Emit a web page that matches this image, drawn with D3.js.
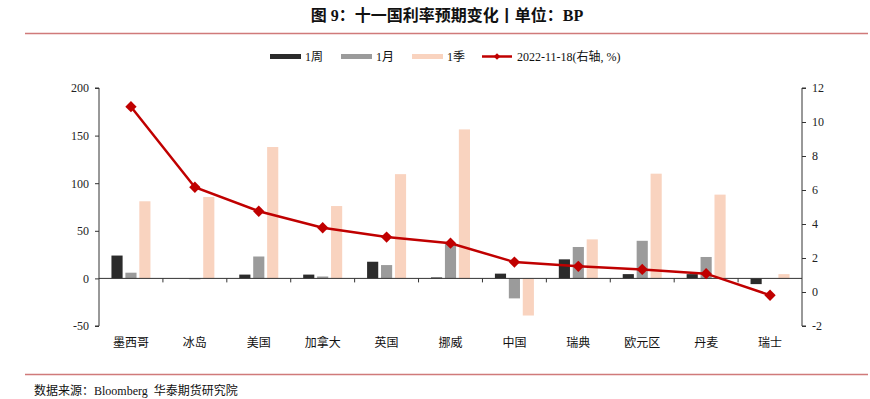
<!DOCTYPE html>
<html><head><meta charset="utf-8">
<script src="https://cdn.jsdelivr.net/npm/d3@7"></script>
<style>
body{margin:0;background:#fff;}
svg text{font-family:"Liberation Serif","Noto Sans CJK SC",serif;}
</style></head>
<body><svg id="c" width="870" height="399"></svg>
<script>
const categories = ["墨西哥","冰岛","美国","加拿大","英国","挪威","中国","瑞典","欧元区","丹麦","瑞士"];
const seriesNames = ["1周","1月","1季"];
const week = [24, 0, 4, 4, 17.5, 1, 5, 20, 4.5, 4.5, -6];
const month = [6, -1, 23, 2, 14, 36.5, -21, 33, 39.5, 22.5, 0];
const quarter = [81, 85.5, 138, 76, 109.5, 156.5, -39, 41, 110, 88, 4.5];
const rate = [10.9, 6.16, 4.75, 3.78, 3.23, 2.87, 1.76, 1.51, 1.33, 1.08, -0.19];
const lineName = "2022-11-18(右轴, %)";
const leftTicks = [-50, 0, 50, 100, 150, 200];
const rightTicks = [-2, 0, 2, 4, 6, 8, 10, 12];
const colors = ["#2b2b2b", "#9b9b9b", "#f9d3bf"];
const lineColor = "#c00000";

const svg = d3.select("#c");
const L = 99, R = 802, T = 88, B = 326;
const x = d3.scaleBand().domain(categories).range([L, R]);
const xs = d3.scaleBand().domain(seriesNames).range([-19.5, 19.5]).paddingInner(0.2);
const yL = d3.scaleLinear().domain([-50, 200]).range([B, T]);
const yR = d3.scaleLinear().domain([-2, 12]).range([B, T]);

// title
svg.append("text").attr("x", 447).attr("y", 21).attr("text-anchor", "middle")
  .attr("font-size", 16).attr("font-weight", "bold").attr("fill", "#111")
  .style("white-space", "pre")
  .text("图 9：十一国利率预期变化丨单位：BP");
svg.append("line").attr("x1", 25).attr("x2", 868).attr("y1", 33.5).attr("y2", 33.5)
  .attr("stroke", "#d07a7a").attr("stroke-width", 1.6);

// bars
const seriesData = [week, month, quarter];
seriesData.forEach((vals, si) => {
  svg.append("g").selectAll("rect").data(vals).join("rect")
    .attr("x", (d, i) => x(categories[i]) + x.bandwidth() / 2 + xs(seriesNames[si]))
    .attr("width", xs.bandwidth())
    .attr("y", d => yL(Math.max(0, d)))
    .attr("height", d => Math.abs(yL(d) - yL(0)))
    .attr("fill", colors[si]);
});

// zero axis
const zeroAxis = svg.append("g").attr("transform", `translate(0,${yL(0)})`);
zeroAxis.append("line").attr("x1", L).attr("x2", R).attr("stroke", "#333").attr("stroke-width", 1);
zeroAxis.selectAll("line.t").data(categories.slice(1)).join("line").attr("class", "t")
  .attr("x1", d => x(d)).attr("x2", d => x(d)).attr("y1", 0).attr("y2", 4)
  .attr("stroke", "#333");

// category labels
svg.append("g").selectAll("text").data(categories).join("text")
  .attr("x", d => x(d) + x.bandwidth() / 2).attr("y", 347)
  .attr("text-anchor", "middle").attr("font-size", 12).attr("fill", "#111")
  .text(d => d);

// left axis
const gl = svg.append("g").attr("transform", `translate(${L},0)`)
  .call(d3.axisLeft(yL).tickValues(leftTicks).tickFormat(d => String(d)).tickSize(4).tickPadding(6));
gl.select(".domain").attr("stroke", "#333").attr("d", `M-4,${T}H0V${B}H-4`);
gl.selectAll("line").attr("stroke", "#333");
gl.selectAll("text").attr("font-size", 12).attr("fill", "#222")
  .style("font-family", "'Liberation Serif',serif");

// right axis
const gr = svg.append("g").attr("transform", `translate(${R},0)`)
  .call(d3.axisRight(yR).tickValues(rightTicks).tickFormat(d => String(d)).tickSize(4).tickPadding(6));
gr.select(".domain").attr("stroke", "#333").attr("d", `M4,${T}H0V${B}H4`);
gr.selectAll("line").attr("stroke", "#333");
gr.selectAll("text").attr("font-size", 12).attr("fill", "#222")
  .style("font-family", "'Liberation Serif',serif");

// line
const line = d3.line().x((d, i) => x(categories[i]) + x.bandwidth() / 2).y(d => yR(d));
svg.append("path").datum(rate).attr("d", line).attr("fill", "none")
  .attr("stroke", lineColor).attr("stroke-width", 2.5);
const sq = d3.symbol().type(d3.symbolSquare).size(64);
svg.append("g").selectAll("path").data(rate).join("path")
  .attr("d", sq)
  .attr("transform", (d, i) => `translate(${x(categories[i]) + x.bandwidth() / 2},${yR(d)}) rotate(45)`)
  .attr("fill", lineColor);

// legend
const lg = svg.append("g");
const legItems = [
  {x: 270, name: seriesNames[0], c: colors[0]},
  {x: 341, name: seriesNames[1], c: colors[1]},
  {x: 412, name: seriesNames[2], c: colors[2]}
];
legItems.forEach(it => {
  lg.append("rect").attr("x", it.x).attr("y", 54).attr("width", 31).attr("height", 5).attr("fill", it.c);
  lg.append("text").attr("x", it.x + 35).attr("y", 61).attr("font-size", 12).attr("fill", "#111").text(it.name);
});
lg.append("line").attr("x1", 482).attr("x2", 512).attr("y1", 56.5).attr("y2", 56.5)
  .attr("stroke", lineColor).attr("stroke-width", 2.5);
lg.append("path").attr("d", d3.symbol().type(d3.symbolSquare).size(22))
  .attr("transform", "translate(497,56.5) rotate(45)").attr("fill", lineColor);
lg.append("text").attr("x", 517).attr("y", 61).attr("font-size", 12).attr("fill", "#111").text(lineName);

// footer
svg.append("line").attr("x1", 25).attr("x2", 868).attr("y1", 374.5).attr("y2", 374.5)
  .attr("stroke", "#d07a7a").attr("stroke-width", 1.6);
svg.append("text").attr("x", 34).attr("y", 395).attr("font-size", 12).attr("fill", "#111")
  .style("white-space", "pre")
  .text("数据来源：Bloomberg  华泰期货研究院");
</script></body></html>
